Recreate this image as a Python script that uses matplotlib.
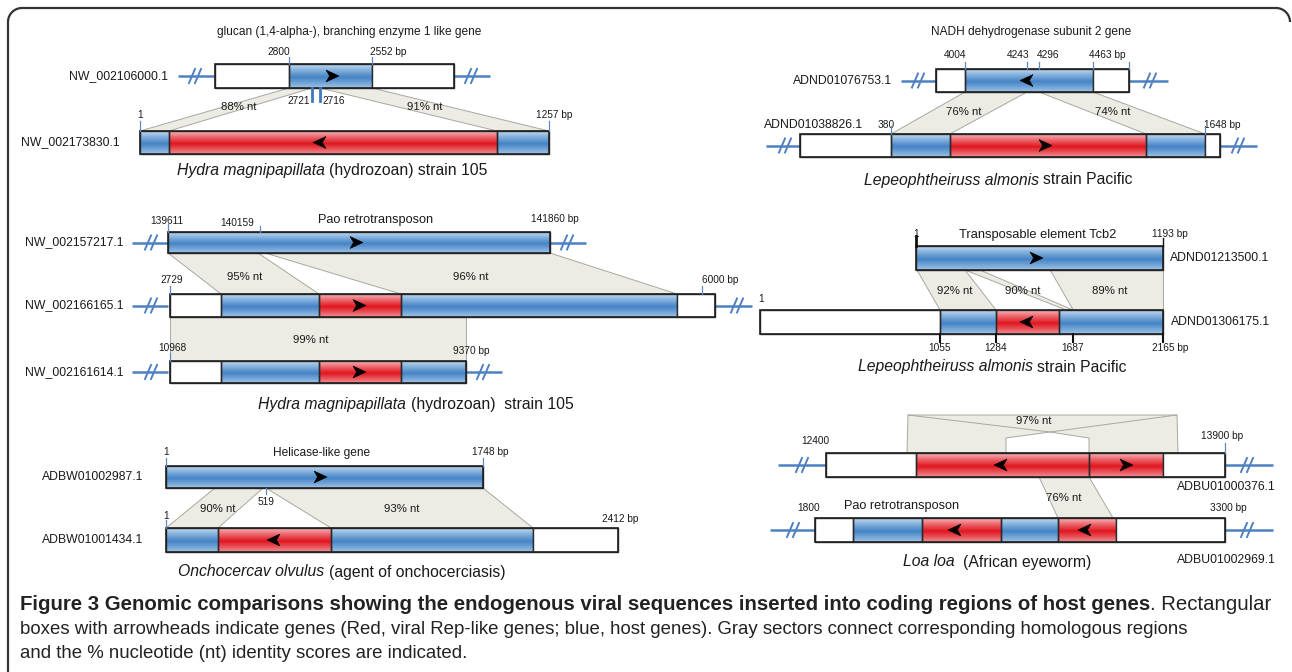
import numpy as np
import matplotlib
matplotlib.use("Agg")
import matplotlib.pyplot as plt
from matplotlib.patches import Polygon, Rectangle

# ---------------------------------------------------------------
# fonts / colours
# ---------------------------------------------------------------
SANS = "Liberation Sans"

BLUE = ("#c3dcf3", "#4584c6", "#b6d4f0")
RED = ("#f8b8bc", "#e0161f", "#f6b0b4")
BREAK = "#4f80c2"
TICK = "#5f88c4"
SECTOR = "#ecebe4"
SECTOR_EDGE = "#a8a8a0"

NAME_PT, COORD_PT, IDENT_PT, SPECIES_PT = 8.8, 7.3, 8.2, 11.3

# ---------------------------------------------------------------
# data: panel A (Hydra, glucan branching enzyme)
# ---------------------------------------------------------------
A_title = "glucan (1,4-alpha-), branching enzyme 1 like gene"
A_names = ["NW_002106000.1", "NW_002173830.1"]
A_edges = [[215, 289, 372, 454], [140, 169, 497, 549]]
A_kinds = [["w", "b", "w"], ["b", "r", "b"]]
A_arrows = [[(332, 1)], [(320, -1)]]
A_coords = [("2800", 279, 52, "center"), ("2552 bp", 388, 52, "center"),
            ("2721", 310, 101, "right"), ("2716", 322, 101, "left"),
            ("1", 140, 115, "center"), ("1257 bp", 554, 115, "center")]
A_ident = [("88% nt", 239, 107), ("91% nt", 425, 107)]
A_sectors = [[(289, 88), (312, 88), (169, 131), (140, 131)],
             [(320, 88), (372, 88), (549, 131), (497, 131)]]
A_species = [("Hydra magnipapillata", "italic"), (" (hydrozoan) strain 105", "normal")]

# panel B (Lepeophtheirus, NADH dehydrogenase)
B_title = "NADH dehydrogenase subunit 2 gene"
B_names = ["ADND01076753.1", "ADND01038826.1"]
B_edges = [[936, 965, 1093, 1129], [800, 891, 950, 1146, 1205, 1220]]
B_kinds = [["w", "b", "w"], ["w", "b", "r", "b", "w"]]
B_arrows = [[(1027, -1)], [(1045, 1)]]
B_coords = [("4004", 955, 55, "center"), ("4243", 1018, 55, "center"),
            ("4296", 1048, 55, "center"), ("4463 bp", 1107, 55, "center"),
            ("380", 886, 125, "center"), ("1648 bp", 1222, 125, "center")]
B_ident = [("76% nt", 964, 112), ("74% nt", 1113, 112)]
B_sectors = [[(965, 92), (1027, 92), (950, 134), (891, 134)],
             [(1039, 92), (1093, 92), (1205, 134), (1146, 134)]]
B_species = [("Lepeophtheiruss almonis", "italic"), (" strain Pacific", "normal")]

# panel C (Hydra, Pao retrotransposon)
C_title = "Pao retrotransposon"
C_names = ["NW_002157217.1", "NW_002166165.1", "NW_002161614.1"]
C_edges = [[168, 550], [170, 221, 319, 401, 677, 715], [170, 221, 319, 401, 466]]
C_kinds = [["b"], ["w", "b", "r", "b", "w"], ["w", "b", "r", "b"]]
C_arrows = [[(356, 1)], [(359, 1)], [(359, 1)]]
C_coords = [("139611", 167, 221, "center"), ("140159", 237, 223, "center"),
            ("141860 bp", 555, 219, "center"), ("2729", 172, 280, "center"),
            ("6000 bp", 720, 280, "center"), ("10968", 172, 348, "center"),
            ("9370 bp", 471, 351, "center")]
C_ident = [("95% nt", 245, 277), ("96% nt", 471, 277), ("99% nt", 311, 340)]
C_sectors = [[(168, 253), (258, 253), (319, 294), (221, 294)],
             [(265, 253), (550, 253), (677, 294), (401, 294)],
             [(170, 317), (466, 317), (466, 361), (170, 361)]]
C_species = [("Hydra magnipapillata", "italic"), (" (hydrozoan)  strain 105", "normal")]

# panel D (Lepeophtheirus, Tcb2)
D_title = "Transposable element Tcb2"
D_names = ["ADND01213500.1", "ADND01306175.1"]
D_edges = [[916, 1163], [760, 940, 996, 1059, 1163]]
D_kinds = [["b"], ["w", "b", "r", "b"]]
D_arrows = [[(1036, 1)], [(1027, -1)]]
D_coords = [("1", 916, 234, "center"), ("1193 bp", 1170, 234, "center"),
            ("1", 761, 299, "center"), ("1055", 940, 348, "center"),
            ("1284", 996, 348, "center"), ("1687", 1073, 348, "center"),
            ("2165 bp", 1170, 348, "center")]
D_ident = [("92% nt", 955, 291), ("90% nt", 1023, 291), ("89% nt", 1110, 291)]
D_sectors = [[(917, 270), (965, 270), (996, 310), (940, 310)],
             [(965, 270), (980, 270), (1073, 310), (1066, 310)],
             [(1050, 270), (1163, 270), (1163, 310), (1073, 310)]]
D_species = [("Lepeophtheiruss almonis", "italic"), (" strain Pacific", "normal")]

# panel E (Onchocerca, helicase)
E_title = "Helicase-like gene"
E_names = ["ADBW01002987.1", "ADBW01001434.1"]
E_edges = [[166, 483], [166, 218, 331, 533, 618]]
E_kinds = [["b"], ["b", "r", "b", "w"]]
E_arrows = [[(320, 1)], [(274, -1)]]
E_coords = [("1", 166, 452, "center"), ("1748 bp", 490, 452, "center"),
            ("519", 266, 502, "center"), ("1", 166, 516, "center"),
            ("2412 bp", 620, 519, "center")]
E_ident = [("90% nt", 218, 509), ("93% nt", 402, 509)]
E_sectors = [[(215, 488), (263, 488), (218, 528), (166, 528)],
             [(266, 488), (483, 488), (533, 528), (331, 528)]]
E_species = [("Onchocercav olvulus", "italic"), (" (agent of onchocerciasis)", "normal")]

# panel F (Loa loa)
F_title = "Pao retrotransposon"
F_names = ["ADBU01000376.1", "ADBU01002969.1"]
F_edges = [[826, 916, 1089, 1163, 1225], [815, 853, 922, 1001, 1058, 1116, 1225]]
F_kinds = [["w", "r", "r", "w"], ["w", "b", "r", "b", "r", "w"]]
F_arrows = [[(1001, -1), (1126, 1)], [(955, -1), (1085, -1)]]
F_coords = [("12400", 815, 441, "center"), ("13900 bp", 1222, 436, "center"),
            ("1800", 809, 508, "center"), ("3300 bp", 1228, 508, "center")]
F_ident = [("97% nt", 1034, 421), ("76% nt", 1064, 498)]
F_sectors = [[(908, 415), (1177, 415), (1178, 453), (1089, 453), (1089, 438),
              (1050, 432), (1006, 438), (1006, 453), (907, 453)],
             [(1039, 477), (1089, 477), (1113, 518), (1058, 518)]]
F_species = [("Loa loa", "italic"), ("  (African eyeworm)", "normal")]

caption_bold = ("Figure 3 Genomic comparisons showing the endogenous viral sequences "
                "inserted into coding regions of host genes")
caption_lines = [". Rectangular",
                 "boxes with arrowheads indicate genes (Red, viral Rep-like genes; blue, host genes). "
                 "Gray sectors connect corresponding homologous regions",
                 "and the % nucleotide (nt) identity scores are indicated."]

# ---------------------------------------------------------------
# figure
# ---------------------------------------------------------------
fig = plt.figure(figsize=(12.92, 6.72), dpi=100)
ax = fig.add_axes([0, 0, 1, 1])
ax.axis("off")
R = fig.canvas.get_renderer()


def ramp(cols, n=48):
    t = np.linspace(0, 1, n)[:, None]
    top, mid, bot = [np.array(matplotlib.colors.to_rgb(c)) for c in cols]
    w = np.clip(1 - np.abs(t - 0.55) / 0.55, 0, 1) ** 0.9
    edge = np.where(t < 0.55, 1.0, 0.0) * top + np.where(t < 0.55, 0.0, 1.0) * bot
    return (edge * (1 - w) + mid * w)[:, None, :]


def segment(x0, x1, y0, y1, kind):
    if kind != "w":
        img = ramp(BLUE if kind == "b" else RED)
        ax.imshow(img, extent=(x0, x1, y1, y0), aspect="auto",
                  interpolation="bilinear", zorder=2)
        ax.add_patch(Rectangle((x0, y0), x1 - x0, y1 - y0, fc="none", ec="#2a2a2a", lw=1.0, zorder=3))
    else:
        ax.add_patch(Rectangle((x0, y0), x1 - x0, y1 - y0, fc="white", ec="#2a2a2a", lw=1.0, zorder=3))


def arrowhead(x, y, d):
    pts = np.array([[7, 0], [-6, -6], [-2.5, 0], [-6, 6]]) * [d, 1] + [x, y]
    ax.add_patch(Polygon(pts, closed=True, fc="black", ec="black", lw=0.4, zorder=5))


def brk(x0, x1, xm, y):
    ax.plot([x0, x1], [y, y], color=BREAK, lw=1.8, zorder=1, solid_capstyle="butt")
    for dx in (-3, 3):
        ax.plot([xm + dx - 3, xm + dx + 3], [y + 7, y - 7], color=BREAK, lw=1.4, zorder=1)


def sector(pts):
    ax.add_patch(Polygon(pts, closed=True, fc=SECTOR, ec=SECTOR_EDGE, lw=0.7, zorder=0.5))


def tick(x, y0, y1, color=TICK, lw=0.9):
    ax.plot([x, x], [y0, y1], color=color, lw=lw, zorder=4)


def track(edges, kinds, arrows, y0, y1):
    for k in range(len(kinds)):
        segment(edges[k], edges[k + 1], y0, y1, kinds[k])
    ax.add_patch(Rectangle((edges[0], y0), edges[-1] - edges[0], y1 - y0,
                           fc="none", ec="#222222", lw=1.2, zorder=4))
    for x, d in arrows:
        arrowhead(x, (y0 + y1) / 2, d)


def label(x, y, s, size=9, ha="center", **kw):
    ax.text(x, y, s, fontsize=size, ha=ha, va="center", family=SANS, color="#1a1a1a", **kw)


def width(s, **kw):
    t = ax.text(0, 0, s, **kw)
    w = t.get_window_extent(renderer=R).width
    t.remove()
    return w


def runs(x, y, parts, size, ha="center", color="#1a1a1a", draw=True):
    pieces = []
    for s, st, wt in parts:
        kw = dict(fontsize=size, family=SANS, style=st, weight=wt)
        gap = width("a a", **kw) - width("aa", **kw)
        lead = (len(s) - len(s.lstrip(" "))) * gap
        core = s.strip(" ")
        pieces.append((lead, core, kw, width(core, **kw)))
    total = sum(p[0] + p[3] for p in pieces)
    if not draw:
        return total
    left = x - total / 2 if ha == "center" else x
    for lead, core, kw, w in pieces:
        left += lead
        ax.text(left, y, core, ha="left", va="center", color=color, **kw)
        left += w
    return total


def panel_text(coords, ident):
    for s, x, y, ha in coords:
        label(x, y, s, size=COORD_PT, ha=ha)
    for s, x, y in ident:
        label(x, y, s, size=IDENT_PT)


def species(x, y, parts):
    runs(x, y, [(s, st, "normal") for s, st in parts], SPECIES_PT)


# ---------------- panel A ----------------
for pts in A_sectors:
    sector(pts)
track(A_edges[0], A_kinds[0], A_arrows[0], 64, 88)
track(A_edges[1], A_kinds[1], A_arrows[1], 131, 154)
brk(178, 215, 195, 76)
brk(454, 490, 471, 76)
for x in (289, 372):
    tick(x, 57, 64)
for x in (140, 549):
    tick(x, 121, 131)
for x in (312, 320):
    tick(x, 88, 101, color="#3f78c0", lw=2)
label(168, 76, A_names[0], size=NAME_PT, ha="right")
label(120, 142, A_names[1], size=NAME_PT, ha="right")
label(349, 32, A_title, size=8.6)
panel_text(A_coords, A_ident)
species(332, 170, A_species)

# ---------------- panel B ----------------
for pts in B_sectors:
    sector(pts)
track(B_edges[0], B_kinds[0], B_arrows[0], 69, 92)
track(B_edges[1], B_kinds[1], B_arrows[1], 134, 157)
brk(901, 936, 918, 80.5)
brk(1129, 1168, 1150, 80.5)
brk(766, 800, 785, 145.5)
brk(1220, 1257, 1238, 145.5)
for x in (965, 1027, 1039, 1093, 1129):
    tick(x, 62, 69)
for x in (891, 1205):
    tick(x, 126, 134)
label(892, 80.5, B_names[0], size=NAME_PT, ha="right")
label(814, 125, B_names[1], size=NAME_PT)
label(1031, 32, B_title, size=8.55)
panel_text(B_coords, B_ident)
species(998, 180, B_species)

# ---------------- panel C ----------------
for pts in C_sectors:
    sector(pts)
track(C_edges[0], C_kinds[0], C_arrows[0], 232, 253)
track(C_edges[1], C_kinds[1], C_arrows[1], 294, 317)
track(C_edges[2], C_kinds[2], C_arrows[2], 361, 383)
for yc, right in ((242.5, (550, 586, 567)), (305.5, (715, 752, 737)), (372, (466, 502, 483))):
    brk(132, C_edges[0][0], 151, yc)
    brk(*right, yc)
tick(168, 224, 232)
tick(260, 226, 232)
tick(170, 286, 294)
tick(702, 286, 294)
tick(170, 353, 361)
for name, yc in zip(C_names, (242.5, 305.5, 372)):
    label(123, yc, name, size=NAME_PT, ha="right")
label(376, 220, C_title, size=9.2)
panel_text(C_coords, C_ident)
species(416, 405, C_species)

# ---------------- panel D ----------------
for pts in D_sectors:
    sector(pts)
track(D_edges[0], D_kinds[0], D_arrows[0], 246, 270)
track(D_edges[1], D_kinds[1], D_arrows[1], 310, 334)
tick(916, 236, 246, color="#111111", lw=2)
tick(1163, 238, 246, color="#111111", lw=1)
for x in (940, 996, 1073, 1163):
    tick(x, 334, 342, color="#111111", lw=1.5)
label(1170, 258, D_names[0], size=NAME_PT, ha="left")
label(1171, 322, D_names[1], size=NAME_PT, ha="left")
label(1038, 235, D_title, size=9.3)
panel_text(D_coords, D_ident)
species(992, 367, D_species)

# ---------------- panel E ----------------
for pts in E_sectors:
    sector(pts)
track(E_edges[0], E_kinds[0], E_arrows[0], 466, 488)
track(E_edges[1], E_kinds[1], E_arrows[1], 528, 552)
for x in (166, 483):
    tick(x, 458, 466)
tick(266, 488, 494)
tick(166, 520, 528)
label(143, 477, E_names[0], size=NAME_PT, ha="right")
label(143, 540, E_names[1], size=NAME_PT, ha="right")
label(322, 453, E_title, size=8.55)
panel_text(E_coords, E_ident)
species(342, 572, E_species)

# ---------------- panel F ----------------
for pts in F_sectors:
    sector(pts)
ax.plot([908, 1050, 1177], [415, 432, 415], color=SECTOR_EDGE, lw=0.7, zorder=0.6)
track(F_edges[0], F_kinds[0], F_arrows[0], 453, 477)
track(F_edges[1], F_kinds[1], F_arrows[1], 518, 542)
brk(778, 826, 802, 465)
brk(1225, 1273, 1247, 465)
brk(770, 815, 793, 530)
brk(1225, 1273, 1247, 530)
tick(1225, 443, 453)
label(1226, 487, F_names[0], size=NAME_PT)
label(1226, 560, F_names[1], size=NAME_PT)
label(902, 506, F_title, size=9.15)
panel_text(F_coords, F_ident)
species(997, 562, F_species)

# ---------------- frame ----------------
r = 14
a1 = np.linspace(np.pi, 1.5 * np.pi, 20)
a2 = np.linspace(1.5 * np.pi, 2 * np.pi, 20)
fx = np.concatenate([[8], 8 + r + r * np.cos(a1), 1290 - r + r * np.cos(a2)])
fy = np.concatenate([[672], 8 + r + r * np.sin(a1), 8 + r + r * np.sin(a2)])
ax.plot(fx, fy, color="#333333", lw=1.6, zorder=6, solid_capstyle="butt")

# ---------------- caption ----------------
first = [(caption_bold, "normal", "bold"), (caption_lines[0], "normal", "normal")]
second = [(caption_lines[1], "normal", "normal")]
third = [(caption_lines[2], "normal", "normal")]
size1 = 10 * 1258 / runs(0, 0, first, 10, draw=False)
size2 = 10 * 1175 / runs(0, 0, second, 10, draw=False)
runs(20, 605, first, size1, ha="left", color="#222222")
runs(20, 630, second, size2, ha="left", color="#222222")
runs(20, 653, third, size2, ha="left", color="#222222")

ax.set_xlim(0, 1292)
ax.set_ylim(672, 0)
fig.savefig("out.png", dpi=100, facecolor="white")
